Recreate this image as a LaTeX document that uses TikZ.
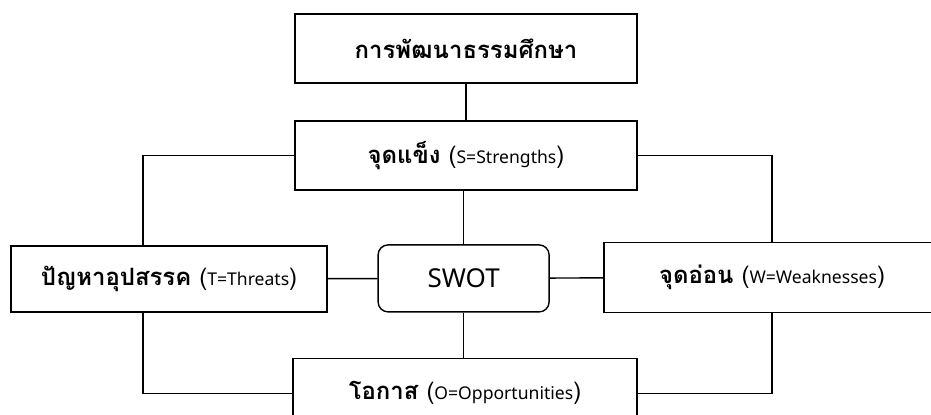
\documentclass[tikz,border=0pt]{standalone}
\usepackage{fontspec}
\newfontfamily\thaifont[Script=Thai]{Loma}
\newfontfamily\latinfont{Noto Sans}
\tikzset{
  box/.style={draw, line width=1pt, minimum width=#1, minimum height=1.72cm, inner sep=2pt,
    font=\thaifont\fontsize{17}{21}\selectfont},
  box/.default=8.55cm,
  link/.style={line width=1pt}
}
\newcommand{\eng}[1]{{\mdseries(\latinfont\fontsize{12.5}{15}\selectfont #1\thaifont\fontsize{17}{21}\selectfont)}}
\begin{document}
\begin{tikzpicture}
            \useasboundingbox (0,0) rectangle (23.275,10.35);

            \node[box] (goal) at (11.65,9.14) {\bfseries การพัฒนาธรรมศึกษา};
            \node[box] (str) at (11.65,6.46) {\bfseries จุดแข็ง \eng{S=Strengths}};
            \node[box=7.9cm, minimum height=1.65cm] (thr) at (4.225,3.375) {\bfseries ปัญหาอุปสรรค \eng{T=Threats}};
            \node[box=4.275cm, minimum height=1.675cm, rounded corners=0.25cm,
              font=\latinfont\fontsize{18.5}{22}\selectfont] (swot) at (11.59,3.39) {SWOT};
            \node[box=8.4cm, minimum height=1.75cm] (wk) at (19.3,3.42) {\bfseries จุดอ่อน \eng{W=Weaknesses}};
            \node[box=8.6cm, minimum height=1.75cm] (opp) at (11.625,0.52) {\bfseries โอกาส \eng{O=Opportunities}};
            \coordinate (tcol) at (3.575,0);

            \draw[link] (goal) to (str);
            \draw[link] (str.west) -| (tcol |- thr.north);
            \draw[link] (str.east) -| (wk.north);
            \draw[link] (swot.north) to (swot.north |- str.south);
            \draw[link] (thr) to (swot);
            \draw[link] (swot) to (wk);
            \draw[link] (swot.south) to (swot.south |- opp.north);
            \draw[link] (tcol |- thr.south) |- (opp.west);
            \draw[link] (wk.south) |- (opp.east);
        \end{tikzpicture}
\end{document}
